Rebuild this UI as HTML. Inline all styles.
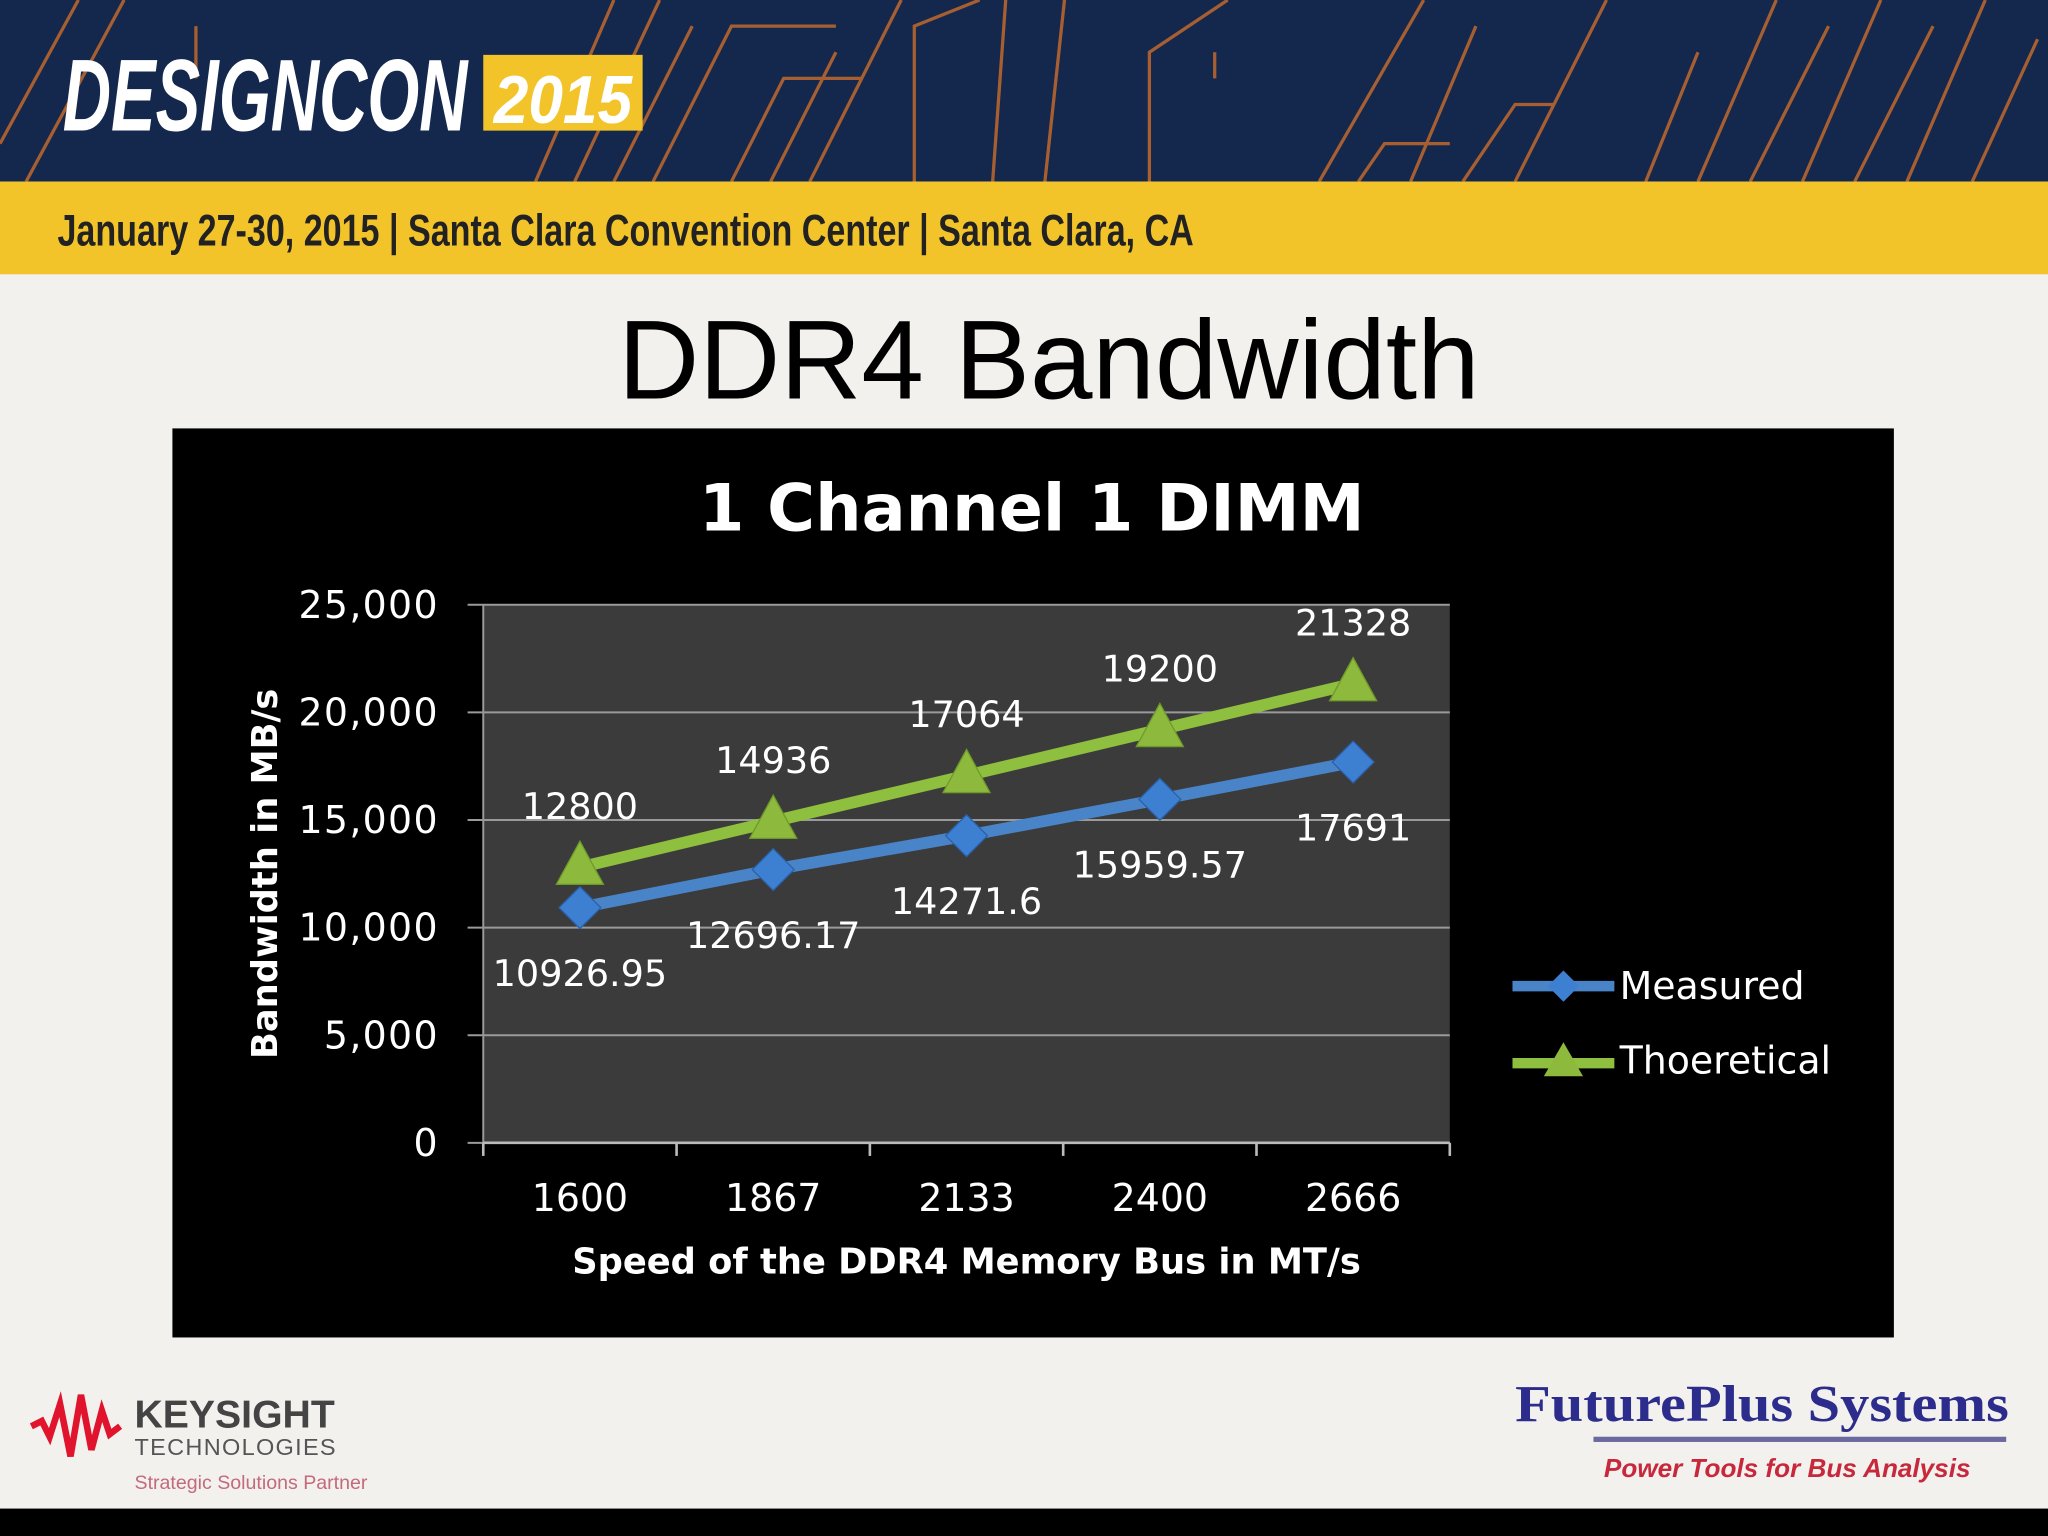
<!DOCTYPE html>
<html><head><meta charset="utf-8"><style>
html,body{margin:0;padding:0;background:#f2f1ee;}
svg{display:block}
</style></head><body>
<svg id="s" width="2048" height="1536" viewBox="0 0 1568 1176" xmlns="http://www.w3.org/2000/svg">
<rect x="0" y="0" width="1568" height="1176" fill="#f2f1ee"/>
<g>
<rect x="0" y="0" width="1568" height="139" fill="#14284d"/>
<g stroke="#b8662e" stroke-width="2.5" fill="none" opacity="0.9">
<path d="M0 110 L60 0"/><path d="M20 139 L95 0"/><path d="M150 20 L150 60"/><path d="M410 139 L470 0"/><path d="M440 139 L505 0"/><path d="M470 139 L530 20"/><path d="M500 139 L560 20 L640 20"/><path d="M560 139 L600 60 L660 60"/><path d="M590 139 L640 40"/><path d="M620 139 L690 0"/><path d="M700 139 L700 20 L750 0"/><path d="M760 139 L770 0"/><path d="M800 139 L815 0"/><path d="M880 139 L880 40 L940 0"/><path d="M930 40 L930 60"/><path d="M1010 139 L1090 0"/><path d="M1040 139 L1060 110 L1110 110"/><path d="M1080 139 L1130 20"/><path d="M1120 139 L1160 80 L1190 80"/><path d="M1160 139 L1230 0"/><path d="M1260 139 L1300 40"/><path d="M1300 139 L1360 0"/><path d="M1340 139 L1400 20"/><path d="M1380 139 L1440 0"/><path d="M1420 139 L1480 20"/><path d="M1460 139 L1520 0"/><path d="M1510 139 L1560 30"/>
</g>
<text x="48" y="100" font-family="Liberation Sans, sans-serif" font-weight="bold" font-style="italic" font-size="78" fill="#ffffff" textLength="310" lengthAdjust="spacingAndGlyphs">DESIGNCON</text>
<rect x="370" y="42" width="122" height="58" fill="#f3c42a"/>
<text x="378" y="94" font-family="Liberation Sans, sans-serif" font-weight="bold" font-style="italic" font-size="52" fill="#ffffff" textLength="106" lengthAdjust="spacingAndGlyphs">2015</text>
<rect x="0" y="139" width="1568" height="71" fill="#f3c42a"/>
<text x="44" y="188" font-family="Liberation Sans, sans-serif" font-weight="bold" font-size="34" fill="#222" textLength="870" lengthAdjust="spacingAndGlyphs">January 27-30, 2015 | Santa Clara Convention Center | Santa Clara, CA</text>
</g>
<text x="803" y="305" text-anchor="middle" font-family="Liberation Sans, sans-serif" font-size="86" fill="#000">DDR4 Bandwidth</text>
<rect x="132" y="328" width="1318" height="696" fill="#000"/>
<text x="790" y="406" text-anchor="middle" font-family="DejaVu Sans, sans-serif" font-weight="bold" font-size="50" fill="#fff">1 Channel 1 DIMM</text>
<g id="plot"></g>
<text transform="translate(212,669) rotate(-90)" text-anchor="middle" font-family="DejaVu Sans, sans-serif" font-weight="bold" font-size="27" fill="#fff">Bandwidth in MB/s</text>
<text x="740" y="975" text-anchor="middle" font-family="DejaVu Sans, sans-serif" font-weight="bold" font-size="27" fill="#fff">Speed of the DDR4 Memory Bus in MT/s</text>
<g>
<g>
<line x1="1158" y1="755" x2="1236" y2="755" stroke="#4a84c8" stroke-width="8"/>
<path d="M1197 743 L1209 755 L1197 767 L1185 755 Z" fill="#3d7fd0"/>
<text x="1240" y="765" font-family="DejaVu Sans, sans-serif" font-size="29" fill="#fff">Measured</text>
</g>
<g>
<line x1="1158" y1="814" x2="1236" y2="814" stroke="#8fbf3f" stroke-width="8"/>
<path d="M1197 798 L1212 824 L1182 824 Z" fill="#8dba3c"/>
<text x="1240" y="822" font-family="DejaVu Sans, sans-serif" font-size="29" fill="#fff">Thoeretical</text>
</g>
</g>
<g>
<path d="M24 1092 L32 1088 L38 1100 L46 1075 L54 1115 L62 1068 L70 1110 L78 1080 L84 1098 L92 1092" stroke="#e0142c" stroke-width="5" fill="none"/>
<text x="103" y="1093" font-family="Liberation Sans, sans-serif" font-weight="bold" font-size="30" fill="#444">KEYSIGHT</text>
<text x="103" y="1114" font-family="Liberation Sans, sans-serif" font-size="18" fill="#555" letter-spacing="1">TECHNOLOGIES</text>
<text x="103" y="1140" font-family="Liberation Sans, sans-serif" font-size="15" fill="#c46a7a">Strategic Solutions Partner</text>
</g>
<g>
<text x="1160" y="1088" font-family="Liberation Serif, serif" font-weight="bold" font-size="40" fill="#2c2c8c" textLength="378" lengthAdjust="spacingAndGlyphs">FuturePlus  Systems</text>
<rect x="1220" y="1100" width="316" height="4" fill="#6a6aa0"/>
<text x="1228" y="1131" font-family="Liberation Sans, sans-serif" font-style="italic" font-weight="bold" font-size="20" fill="#c8283c">Power Tools for Bus Analysis</text>
</g>
<rect x="0" y="1155" width="1568" height="21" fill="#000"/>
</svg>
<script>
const categories = ["1600","1867","2133","2400","2666"];
const measured = [10926.95,12696.17,14271.6,15959.57,17691];
const theoretical = [12800,14936,17064,19200,21328];
const measuredLabels = ["10926.95","12696.17","14271.6","15959.57","17691"];
const theoreticalLabels = ["12800","14936","17064","19200","21328"];
const yTicks = [0,5000,10000,15000,20000,25000];
const yTickLabels = ["0","5,000","10,000","15,000","20,000","25,000"];

const NS="http://www.w3.org/2000/svg";
const g=document.getElementById('plot');
const L=370,R=1110,T=463,B=875,yMax=25000;
const band=(R-L)/categories.length;
const xs=i=>L+band*(i+0.5);
const ys=v=>B-(v/yMax)*(B-T);
function mk(tag,attrs){const e=document.createElementNS(NS,tag);for(const k in attrs)e.setAttribute(k,attrs[k]);g.appendChild(e);return e;}
const bg=mk('rect',{x:L,y:T,width:R-L,height:B-T,fill:'#3c3b3b'});


yTicks.forEach((t,i)=>{
  const ln=mk('line',{x1:L-12,x2:R,y1:ys(t),y2:ys(t),stroke:'#9a9a9a','stroke-width':1.5});
  
  
  const tx=mk('text',{x:336,y:ys(t)+10,'text-anchor':'end','font-family':'DejaVu Sans, sans-serif','font-size':29,fill:'#fff','letter-spacing':1});
  tx.textContent=yTickLabels[i];
  
  
});
const ax=mk('line',{x1:L,x2:L,y1:T,y2:B,stroke:'#9a9a9a','stroke-width':1.5});


const xax=mk('line',{x1:L,x2:R,y1:B,y2:B,stroke:'#bbb','stroke-width':2});


for(let i=0;i<=categories.length;i++){
  const tk=mk('line',{x1:L+band*i,x2:L+band*i,y1:B,y2:B+10,stroke:'#bbb','stroke-width':2});
  
  
}
categories.forEach((c,i)=>{
  const tx=mk('text',{x:xs(i),y:927,'text-anchor':'middle','font-family':'DejaVu Sans, sans-serif','font-size':29,fill:'#fff'});
  tx.textContent=c;
  
  
});
function series(vals,color,name){
  const pl=mk('polyline',{points:vals.map((v,i)=>xs(i)+','+ys(v)).join(' '),fill:'none',stroke:color,'stroke-width':9,'stroke-linejoin':'round'});
  
  
}
series(measured,'#4a84c8','measured');
series(theoretical,'#8fbf3f','theoretical');
measured.forEach((v,i)=>{
  const x=xs(i),y=ys(v);
  const m=mk('path',{d:`M${x} ${y-16} L${x+16} ${y} L${x} ${y+16} L${x-16} ${y} Z`,fill:'#3d80d2',stroke:'#2a60a8','stroke-width':1});
  
  
  const t=mk('text',{x:x,y:y+60,'text-anchor':'middle','font-family':'DejaVu Sans, sans-serif','font-size':28,fill:'#fff'});
  t.textContent=measuredLabels[i];
  
  
});
theoretical.forEach((v,i)=>{
  const x=xs(i),y=ys(v);
  const m=mk('path',{d:`M${x} ${y-20} L${x+18} ${y+13} L${x-18} ${y+13} Z`,fill:'#8dba3c',stroke:'#6e9a2a','stroke-width':1});
  
  
  const t=mk('text',{x:x,y:y-37,'text-anchor':'middle','font-family':'DejaVu Sans, sans-serif','font-size':28,fill:'#fff'});
  t.textContent=theoreticalLabels[i];
  
  
});
</script>
</body></html>
